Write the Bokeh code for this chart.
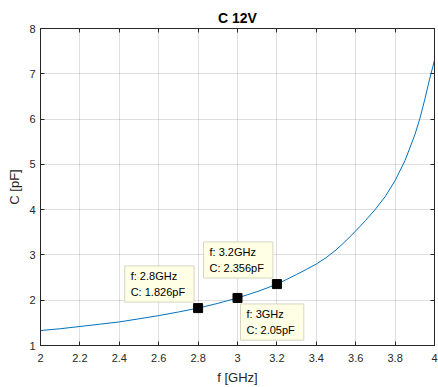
from bokeh.plotting import figure
from bokeh.models import LinearAxis, FixedTicker, Label, ColumnDataSource
from bokeh.embed import file_html
from bokeh.resources import INLINE

# Curve
freq_ghz = [2.0, 2.1, 2.2, 2.3, 2.4, 2.5, 2.6, 2.7, 2.8, 2.9, 3.0, 3.05, 3.1, 3.15, 3.2, 3.25,
            3.3, 3.35, 3.4, 3.45, 3.5, 3.55, 3.6, 3.65, 3.7, 3.75, 3.8, 3.85, 3.9, 3.925,
            3.95, 3.975, 4.0]
cap_pf = [1.33, 1.37, 1.42, 1.47, 1.52, 1.59, 1.66, 1.74, 1.826, 1.93, 2.05, 2.12, 2.19, 2.27,
          2.356, 2.46, 2.57, 2.68, 2.80, 2.94, 3.11, 3.31, 3.53, 3.76, 4.01, 4.29, 4.64, 5.08,
          5.65, 6.0, 6.42, 6.88, 7.3]

# Data tips
tip_f = [2.8, 3.0, 3.2]
tip_c = [1.826, 2.05, 2.356]
tip_anchor = ["bottom_right", "top_left", "bottom_right"]

xticks = [2, 2.2, 2.4, 2.6, 2.8, 3, 3.2, 3.4, 3.6, 3.8, 4]
xtick_labels = ["2", "2.2", "2.4", "2.6", "2.8", "3", "3.2", "3.4", "3.6", "3.8", "4"]
yticks = [1, 2, 3, 4, 5, 6, 7, 8]
ytick_labels = ["1", "2", "3", "4", "5", "6", "7", "8"]

FONT = "Liberation Sans"
AX = "#262626"

p = figure(width=438, height=387, x_range=(2, 4), y_range=(1, 8),
           output_backend="svg", toolbar_location=None,
           x_axis_location=None, y_axis_location=None,
           min_border_left=40, min_border_right=4, min_border_top=28, min_border_bottom=41)
p.outline_line_color = AX
p.outline_line_width = 1
p.background_fill_color = "white"
p.border_fill_color = "white"

p.title.text = "C 12V"
p.title.align = "center"
p.title.text_font = FONT
p.title.text_font_size = "14px"
p.title.text_font_style = "bold"
p.title.text_color = "black"
p.title.standoff = 5

def make_axis(ticks, labels, label_text, show_labels):
    ax = LinearAxis(ticker=FixedTicker(ticks=ticks),
                    major_label_overrides=dict(zip(ticks, labels)))
    ax.major_tick_in = 4
    ax.major_tick_out = 0
    ax.minor_tick_in = 0
    ax.minor_tick_out = 0
    ax.axis_line_color = AX
    ax.major_tick_line_color = AX
    ax.major_label_text_font = FONT
    if show_labels:
        ax.major_label_text_color = AX
        ax.major_label_text_font_size = "11px"
        ax.major_label_text_line_height = 1.0
        ax.axis_label = label_text
        ax.axis_label_text_font = FONT
        ax.axis_label_text_font_size = "13px"
        ax.axis_label_text_font_style = "normal"
        ax.axis_label_text_color = AX
        ax.axis_label_text_line_height = 1.0
    else:
        ax.major_label_text_color = None
        ax.major_label_text_font_size = "0px"
        ax.major_label_standoff = 0
    return ax

xb = make_axis(xticks, xtick_labels, "f [GHz]", True)
xb.major_label_standoff = 8
xb.axis_label_standoff = 5
yl = make_axis(yticks, ytick_labels, "C [pF]", True)
yl.major_label_standoff = 5
yl.axis_label_standoff = 4
xt = make_axis(xticks, xtick_labels, "", False)
yr = make_axis(yticks, ytick_labels, "", False)
p.add_layout(xb, "below")
p.add_layout(yl, "left")
p.add_layout(xt, "above")
p.add_layout(yr, "right")

p.xgrid.ticker = FixedTicker(ticks=xticks)
p.ygrid.ticker = FixedTicker(ticks=yticks)
p.grid.grid_line_color = AX
p.grid.grid_line_alpha = 0.15

src = ColumnDataSource(data=dict(f=freq_ghz, c=cap_pf))
p.line("f", "c", source=src, line_color="#0072BD", line_width=1)

tips = ColumnDataSource(data=dict(f=tip_f, c=tip_c))
p.scatter("f", "c", source=tips, marker="square", size=9,
          fill_color="black", line_color="black")

offsets = {"bottom_right": (-4, 6), "top_left": (3, -6)}
for f, c, anc in zip(tip_f, tip_c, tip_anchor):
    dx, dy = offsets[anc]
    lab = Label(x=f, y=c, x_offset=dx, y_offset=dy, anchor=anc,
                text=f"f: {f:g}GHz\nC: {c:g}pF",
                text_font=FONT, text_font_size="11px", text_color="black",
                text_line_height=1.35, padding=(6, 9, 4, 4),
                background_fill_color="#ffffe6", background_fill_alpha=1.0,
                border_line_color="#d6d6c2", border_line_width=1)
    p.add_layout(lab)

open("out.html", "w").write(file_html(p, INLINE))
